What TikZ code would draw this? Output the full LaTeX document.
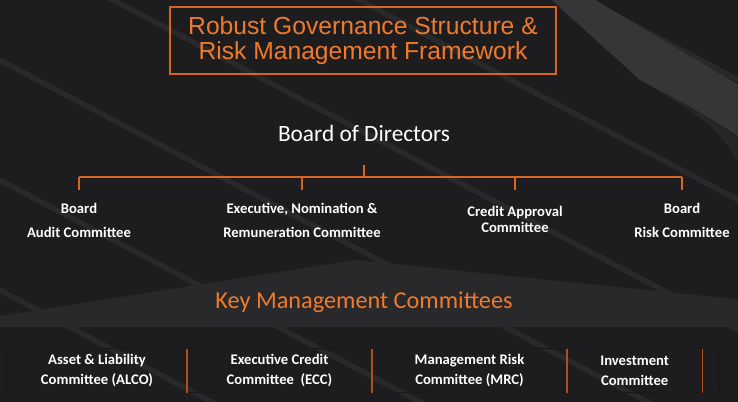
\documentclass[tikz,border=0pt]{standalone}
\usepackage{fontspec}
\setmainfont{Carlito}
\newfontfamily\arialfont{Liberation Sans}
\usetikzlibrary{positioning}

\definecolor{bgdark}{HTML}{1D1D1F}
\definecolor{stripecol}{HTML}{29292B}
\definecolor{bandcol}{HTML}{363638}
\definecolor{orangeline}{HTML}{D8641F}
\definecolor{orangetext}{HTML}{F07A2C}

\begin{document}
\begin{tikzpicture}[x=0.75pt, y=-0.75pt]

\tikzstyle{every node}=[font=\bfseries\fontsize{11}{17.5}\selectfont, text=white]
\tikzstyle{titlebox} = [rectangle, draw=orangeline, line width=0.8pt, align=center, text=orangetext, font=\arialfont\fontsize{18.5}{19.3}\selectfont, minimum width=289.5pt, minimum height=50.25pt]
\tikzstyle{heading} = [font=\mdseries\fontsize{17.5}{21}\selectfont]
\tikzstyle{committee} = [anchor=north, align=center, inner xsep=2pt, inner ysep=10pt]
\tikzstyle{cell} = [rectangle, align=center, outer sep=0pt, inner sep=0pt, minimum height=33pt, font=\bfseries\fontsize{11}{15}\selectfont]
\tikzstyle{link} = [draw=orangeline, line width=0.9pt]

\useasboundingbox (0,0) rectangle (738,401);

% Background
\begin{scope}
\clip (-6,-6) rectangle (744,407);
\fill[bgdark] (-6,-6) rectangle (744,407);
\foreach \b in {-430,-310,-190,-60,60,180,290}
  \draw[stripecol, line width=4pt] (-6,\b-3) -- (744,\b+393);
\fill[stripecol] (-6,317) -- (355,260) -- (744,300) -- (744,327) -- (-6,327) -- cycle;
\fill[bandcol] (545,-6) -- (585,-6) -- (744,88) -- (744,140) .. controls (700,112) .. (640,80) -- cycle;
\fill[black!85] (640,80) .. controls (700,112) .. (744,142) -- (744,172) .. controls (715,125) .. (640,80) -- cycle;
\end{scope}

% Nodos
\node[titlebox] (title) at (363,40.5) {Robust Governance Structure \&\\Risk Management Framework};
\node[heading] (bod) at (364,133) {Board of Directors};
\coordinate (stem) at (364,165);
\coordinate (hub) at (364,177);

\node[committee] (audit) at (79,190) {Board\\Audit Committee};
\node[committee] (enr) at (302,190) {Executive, Nomination \&\\Remuneration Committee};
\node[committee, inner ysep=12pt, font=\bfseries\fontsize{11}{12}\selectfont] (credit) at (515,190) {Credit Approval\\Committee};
\node[committee] (risk) at (682,190) {Board\\Risk Committee};

\node[heading, text=orangetext, font=\mdseries\fontsize{18.2}{21}\selectfont] (kmc) at (364,302.5) {Key Management Committees};

\node[cell, minimum width=135pt, anchor=west] (alco) at (7,370.5) {Asset \& Liability\\Committee (ALCO)};
\node[cell, minimum width=138.75pt, right=0pt of alco] (ecc) {Executive Credit\\Committee~~(ECC)};
\node[cell, minimum width=146.25pt, right=0pt of ecc] (mrc) {Management Risk\\Committee (MRC)};
\node[cell, minimum width=101.5pt, right=0pt of mrc] (inv) {Investment\\Committee};
\node[cell, minimum width=12pt, right=0pt of inv] (tail) {};

% Lines
\draw[link] (stem) -- (hub);
\draw[link] (audit.north |- hub) -- (risk.north |- hub);
\foreach \n in {audit,enr,credit,risk}
  \draw[link] (\n.north |- hub) -- (\n.north);

\draw[black!90, line width=1pt, rounded corners=1pt] (alco.north west) rectangle (tail.south east);
\foreach \n in {alco,ecc,mrc,inv}
  \draw[orangeline!80!black, line width=0.9pt] (\n.north east) -- (\n.south east);

\end{tikzpicture}
\end{document}
